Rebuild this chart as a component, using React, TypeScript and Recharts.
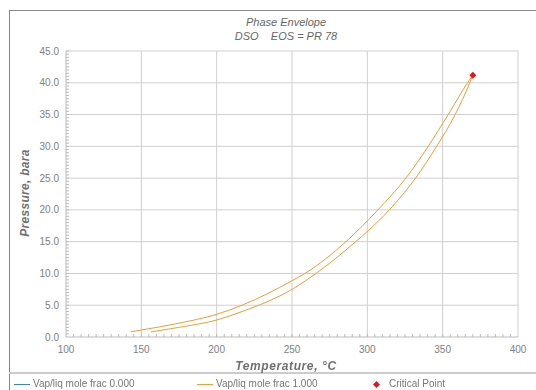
import { ComposedChart, Line, Scatter, XAxis, YAxis, ReferenceLine } from 'recharts';

// upper branch of the envelope (T °C, P bara)
const upperBranch = [
  { t: 143.1, p: 0.83 },
  { t: 150, p: 1.1 },
  { t: 174.5, p: 2.15 },
  { t: 200, p: 3.57 },
  { t: 216.8, p: 5.0 },
  { t: 250, p: 8.85 },
  { t: 258.6, p: 10 },
  { t: 285.8, p: 15 },
  { t: 307, p: 20 },
  { t: 325.6, p: 25 },
  { t: 340.4, p: 30 },
  { t: 353.7, p: 35 },
  { t: 366.5, p: 40 },
  { t: 370, p: 41.2 },
];

// lower branch
const lowerBranch = [
  { t: 156.4, p: 0.8 },
  { t: 174.5, p: 1.5 },
  { t: 200, p: 2.67 },
  { t: 216.8, p: 4.0 },
  { t: 250, p: 7.5 },
  { t: 265.9, p: 10 },
  { t: 292.3, p: 15 },
  { t: 300, p: 16.6 },
  { t: 314.6, p: 20 },
  { t: 332, p: 25 },
  { t: 346, p: 30 },
  { t: 358.3, p: 35 },
  { t: 368, p: 40 },
  { t: 370, p: 41.2 },
];

const criticalPoint = [{ t: 370, p: 41.2 }];

const tempTicks = [100, 150, 200, 250, 300, 350, 400];
const pressureTicks = [0, 5, 10, 15, 20, 25, 30, 35, 40, 45];
const tempMinor = Array.from({ length: 61 }, (_, i) => 100 + i * 5);
const pressureMinor = Array.from({ length: 91 }, (_, i) => i * 0.5);

const font = '"Liberation Sans", Arial, sans-serif';
const orange = '#f39c32';
const red = '#e8141c';

function XTick({ x, y, payload }: any) {
  const v = payload.value;
  const major = v % 50 === 0;
  return (
    <g>
      {v > 100 && v < 400 && <line x1={x} x2={x} y1={y} y2={y - 3} stroke="#bbb" />}
      {major && (
        <text x={x} y={y + 16} textAnchor="middle" fill="#808080" fontSize={10} fontFamily={font}>
          {v}
        </text>
      )}
    </g>
  );
}

function YTick({ x, y, payload }: any) {
  const v = payload.value;
  const major = Number.isInteger(v / 5);
  return (
    <g>
      {v > 0 && <line x1={x} x2={x + 3} y1={y} y2={y} stroke="#bbb" />}
      {major && (
        <text x={x - 7} y={y + 3.5} textAnchor="end" fill="#808080" fontSize={10} fontFamily={font}>
          {v.toFixed(1)}
        </text>
      )}
    </g>
  );
}

function Diamond({ cx, cy }: any) {
  return <polygon points={`${cx},${cy - 3.5} ${cx + 3.5},${cy} ${cx},${cy + 3.5} ${cx - 3.5},${cy}`} fill={red} />;
}

export default function App() {
  return (
    <div style={{ position: 'fixed', left: 0, top: 0, width: 536, height: 390, background: '#fff', fontFamily: font }}>
      <div style={{ position: 'absolute', left: 9, top: 10, width: 526, height: 380, borderLeft: '1px solid #888', borderTop: '1px solid #888', borderRight: '1px solid #888' }} />
      <div style={{ position: 'absolute', left: 9, top: 372, width: 527, height: 2, background: '#ccc' }} />
      <div style={{ position: 'absolute', left: 0, width: 536, top: 15, textAlign: 'center', fontSize: 11, fontStyle: 'italic', color: '#666', lineHeight: '14px', paddingLeft: 18 }}>
        <div>Phase Envelope</div>
        <div>DSO&nbsp;&nbsp;&nbsp;&nbsp;EOS = PR 78</div>
      </div>
      <ComposedChart
        width={536}
        height={390}
        margin={{ top: 51, right: 18, bottom: 23, left: 16 }}
        style={{ position: 'absolute', left: 0, top: 0 }}
      >
        <XAxis
          type="number"
          dataKey="t"
          domain={[100, 400]}
          ticks={tempMinor}
          interval={0}
          tick={<XTick />}
          tickLine={false}
          tickSize={0}
          tickMargin={0}
          height={30}
          stroke="#bbb"
          allowDataOverflow
        />
        <YAxis
          type="number"
          dataKey="p"
          domain={[0, 45]}
          ticks={pressureMinor}
          interval={0}
          tick={<YTick />}
          tickLine={false}
          tickSize={0}
          tickMargin={0}
          width={50}
          stroke="#bbb"
          allowDataOverflow
        />
        {tempTicks.slice(1).map((v) => (
          <ReferenceLine key={'x' + v} x={v} stroke="#cfcfcf" />
        ))}
        {pressureTicks.slice(1).map((v) => (
          <ReferenceLine key={'y' + v} y={v} stroke="#cfcfcf" />
        ))}
        <Line data={upperBranch} dataKey="p" type="monotone" stroke={orange} strokeWidth={1} dot={false} isAnimationActive={false} />
        <Line data={lowerBranch} dataKey="p" type="monotone" stroke={orange} strokeWidth={1} dot={false} isAnimationActive={false} />
        <Scatter data={criticalPoint} dataKey="p" fill={red} shape={<Diamond />} isAnimationActive={false} />
      </ComposedChart>
      <div style={{ position: 'absolute', left: 0, width: 536, top: 359, textAlign: 'center', fontSize: 12, fontWeight: 'bold', fontStyle: 'italic', color: '#707070', paddingLeft: 18, letterSpacing: 0.6 }}>
        Temperature, °C
      </div>
      <div style={{ position: 'absolute', left: 25, top: 193, transform: 'translate(-50%, -50%) rotate(-90deg)', whiteSpace: 'nowrap', fontSize: 12, fontWeight: 'bold', fontStyle: 'italic', color: '#707070', letterSpacing: 0.3 }}>
        Pressure, bara
      </div>
      <div style={{ position: 'absolute', top: 378, left: 0, width: 536, height: 12, fontSize: 10, color: '#777', lineHeight: '12px' }}>
        <span style={{ position: 'absolute', left: 14, top: 6, width: 16, height: 1, background: '#3b86c8' }} />
        <span style={{ position: 'absolute', left: 33, top: 0 }}>Vap/liq mole frac 0.000</span>
        <span style={{ position: 'absolute', left: 197, top: 6, width: 16, height: 1, background: orange }} />
        <span style={{ position: 'absolute', left: 216, top: 0 }}>Vap/liq mole frac 1.000</span>
        <svg style={{ position: 'absolute', left: 373, top: 3 }} width={7} height={7}>
          <polygon points="3.5,0 7,3.5 3.5,7 0,3.5" fill={red} />
        </svg>
        <span style={{ position: 'absolute', left: 389, top: 0 }}>Critical Point</span>
      </div>
    </div>
  );
}
